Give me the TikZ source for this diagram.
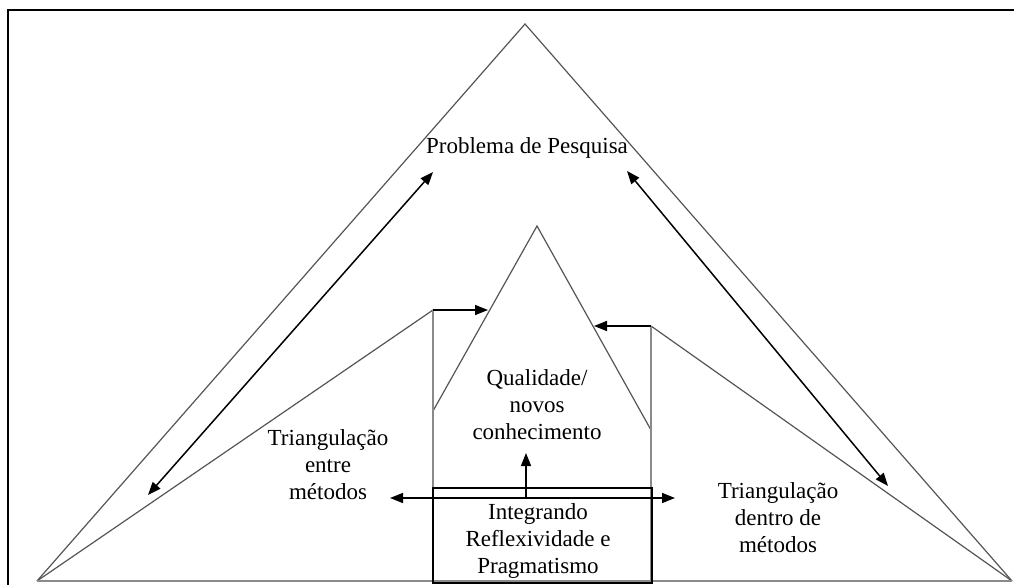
\documentclass[tikz,border=0pt]{standalone}
\usepackage{fontspec}
\setmainfont{Liberation Serif}
\usetikzlibrary{positioning}
\usetikzlibrary{arrows.meta}
\definecolor{edge-grey}{HTML}{555555}
\definecolor{post-grey}{HTML}{8A8A8A}
\tikzset{
  frame-line/.style={line width=1.4pt, black},
  tri-line/.style={line width=1.2pt, edge-grey},
  post-line/.style={line width=2pt, post-grey},
  base-line/.style={line width=2.5pt, post-grey},
  link-path/.style={line width=1.5pt, black, -{Triangle[length=13pt,width=10pt]}},
  both-path/.style={line width=1.5pt, black, {Triangle[length=13pt,width=10pt]}-{Triangle[length=13pt,width=10pt]}},
  label-text/.style={align=center, font=\fontsize{23}{27}\selectfont, inner sep=0pt},
}

\begin{document}
\begin{tikzpicture}[x=1pt, y=-1pt]
\useasboundingbox (0,0) rectangle (1014,585);
\draw[frame-line] (8,590) |- (1016,10);
% outer triangle
\coordinate (apex) at (525, 24);
\coordinate (base left) at (37, 581);
\coordinate (base right) at (1012, 581);
% side triangles and posts
\coordinate (left peak) at (433, 310);
\coordinate (right peak) at (651, 326);
\coordinate (left foot) at (433, 581);
\coordinate (right foot) at (651, 581);
% central peak
\coordinate (centre peak) at (537, 226);
\coordinate (centre left) at (433, 411);
\coordinate (centre right) at (651, 430);
\draw[tri-line] (base left) -- (apex) -- (base right);
\draw[tri-line] (base left) -- (left peak);
\draw[tri-line] (right peak) -- (base right);
\draw[tri-line] (centre left) -- (centre peak) -- (centre right);
\draw[post-line] (left peak) -- (left foot);
\draw[post-line] (right peak) -- (right foot);
\draw[base-line] (base left) -- (base right);

\node[label-text] at (527, 148) (problema) {Problema de Pesquisa};
\node[label-text] at (537, 405) (qualidade) {Qualidade/\\novos\\conhecimento};
\node[label-text] at (328, 465) (entre) {Triangulação\\entre\\métodos};
\node[label-text] at (778, 518) (dentro) {Triangulação\\dentro de\\métodos};
\node[draw, line width=1.5pt, minimum width=219pt, minimum height=95pt]
  at (542.5, 535.5) (integrando box) {};
\node[label-text] at (538, 541) (integrando) {Integrando\\Reflexividade e\\Pragmatismo};

% arrows
\coordinate (hub) at (526, 498);
\coordinate (left tip) at (390, 498);
\coordinate (right tip) at (675, 498);
\coordinate (up tip) at (526, 453);
\draw[link-path] (hub) -- (left tip);
\draw[link-path] (hub) -- (right tip);
\draw[link-path] (hub) -- (up tip);
\coordinate (left in) at (488, 310);
\coordinate (right in) at (594, 326);
\draw[link-path] (left peak) -- (left in);
\draw[link-path] (right peak) -- (right in);
\coordinate (ul end) at (433, 172);
\coordinate (ll end) at (148, 495);
\coordinate (ur end) at (627, 171);
\coordinate (lr end) at (888, 486);
\draw[both-path] (ll end) -- (ul end);
\draw[both-path] (ur end) -- (lr end);
\end{tikzpicture}
\end{document}
